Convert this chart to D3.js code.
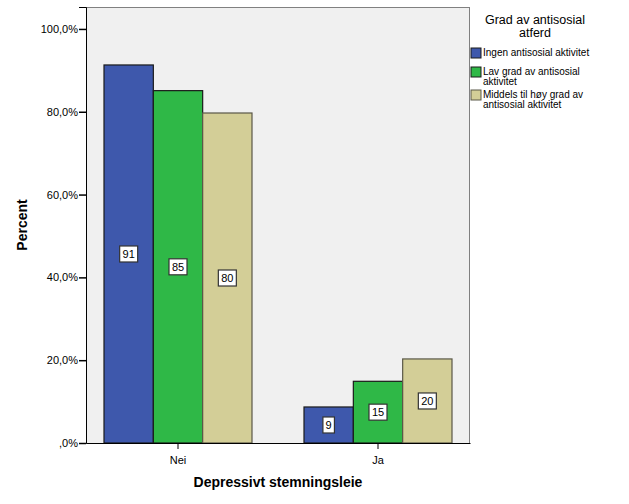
<html>
<head>
<script src="https://cdn.jsdelivr.net/npm/d3@7"></script>
<style>
body { margin: 0; background: #fff; }
text { font-family: "Liberation Sans", Arial, sans-serif; }
</style>
</head>
<body>
<svg width="629" height="504"></svg>
<script>
var groups = ["Nei", "Ja"];
var series = ["Ingen antisosial aktivitet", "Lav grad av antisosial aktivitet", "Middels til høy grad av antisosial aktivitet"];
var legendLines = [["Ingen antisosial aktivitet"], ["Lav grad av antisosial", "aktivitet"], ["Middels til høy grad av", "antisosial aktivitet"]];
var percents = [[91.3, 85.1, 79.7], [8.7, 14.9, 20.3]];
var labels = [[91, 85, 80], [9, 15, 20]];
var yTicks = [0, 20, 40, 60, 80, 100];
var colors = ["#3e58ac", "#2fb847", "#d3ce97"];
var strokes = ["#1a1a1a", "#1a1a1a", "#5a5848"];

var svg = d3.select("svg"),
    margin = {top: 7, left: 86, right: 159, bottom: 61},
    width = 629 - margin.left - margin.right,
    height = 504 - margin.top - margin.bottom,
    g = svg.append("g").attr("transform", "translate(" + margin.left + "," + margin.top + ")");

var y = d3.scaleLinear().domain([0, 105.3]).range([height, 0]);
var x0 = d3.scaleBand().domain(groups).range([0, width]).paddingInner(0.26).paddingOuter(0.09);
var x1 = d3.scaleBand().domain(d3.range(series.length)).range([0, x0.bandwidth()]);

g.append("rect").attr("width", width).attr("height", height).attr("fill", "#f0f0f0");
g.append("line").attr("x1", 0).attr("x2", width).attr("y1", 0.5).attr("y2", 0.5)
    .attr("stroke", "#808080");
g.append("line").attr("x1", width - 0.5).attr("x2", width - 0.5).attr("y1", 0).attr("y2", height)
    .attr("stroke", "#808080");

var grp = g.selectAll(".grp").data(groups).enter().append("g")
    .attr("transform", function(d) { return "translate(" + x0(d) + ",0)"; });

grp.each(function(gname, gi) {
  var s = d3.select(this);
  s.selectAll("rect").data(percents[gi]).enter().append("rect")
      .attr("x", function(d, i) { return x1(i); })
      .attr("y", function(d) { return y(d); })
      .attr("width", x1.bandwidth())
      .attr("height", function(d) { return height - y(d); })
      .attr("fill", function(d, i) { return colors[i]; })
      .attr("stroke", function(d, i) { return strokes[i]; })
      .attr("stroke-width", 1.2);
  percents[gi].forEach(function(d, i) {
    var cx = x1(i) + x1.bandwidth() / 2, cy = y(d / 2);
    var t = String(labels[gi][i]);
    var w = t.length * 6.5 + 5;
    s.append("rect").attr("x", cx - w / 2).attr("y", cy - 8).attr("width", w).attr("height", 16)
        .attr("fill", "#fff").attr("stroke", "#333").attr("stroke-width", 1.2);
    s.append("text").attr("x", cx).attr("y", cy + 4).attr("text-anchor", "middle")
        .attr("font-size", 11).attr("fill", "#000").text(t);
  });
});

var yAxis = g.append("g")
    .call(d3.axisLeft(y).tickValues(yTicks).tickSize(7).tickFormat(function(d) {
      return d === 0 ? ",0%" : d + ",0%";
    }));
yAxis.select(".domain").attr("stroke", "#000");
yAxis.selectAll("text").attr("font-size", 11).attr("font-family", "Liberation Sans, Arial, sans-serif").attr("dx", 2);
yAxis.selectAll(".tick line").attr("stroke-width", 1.5);

var xAxis = g.append("g").attr("transform", "translate(0," + height + ")")
    .call(d3.axisBottom(x0).tickSize(6).tickSizeOuter(0));
xAxis.select(".domain").attr("stroke", "#000");
xAxis.selectAll("text").attr("font-size", 11).attr("font-family", "Liberation Sans, Arial, sans-serif").attr("dy", "1.1em");

svg.append("text").attr("transform", "translate(27," + (margin.top + height / 2) + ") rotate(-90)")
    .attr("text-anchor", "middle").attr("font-size", 14).attr("font-weight", "bold").text("Percent");
svg.append("text").attr("x", margin.left + width / 2).attr("y", 487)
    .attr("text-anchor", "middle").attr("font-size", 14).attr("font-weight", "bold").text("Depressivt stemningsleie");

var leg = svg.append("g");
leg.append("text").attr("x", 535).attr("y", 24).attr("text-anchor", "middle").attr("font-size", 12.5).text("Grad av antisosial");
leg.append("text").attr("x", 535).attr("y", 37).attr("text-anchor", "middle").attr("font-size", 12.5).text("atferd");
var legY = [47, 66, 89];
legendLines.forEach(function(lines, i) {
  leg.append("rect").attr("x", 471).attr("y", legY[i] + 1).attr("width", 10).attr("height", 10)
      .attr("fill", colors[i]).attr("stroke", strokes[i]);
  lines.forEach(function(l, j) {
    leg.append("text").attr("x", 483).attr("y", legY[i] + 9 + j * 10).attr("font-size", 10).text(l);
  });
});
</script>
</body>
</html>
